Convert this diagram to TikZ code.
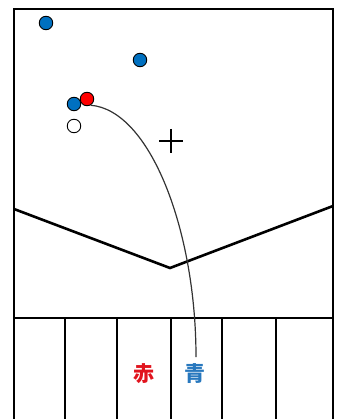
\documentclass[tikz,border=0pt]{standalone}
\usepackage{fontspec}
\newfontfamily\cjk{Noto Sans CJK JP}
\usepackage{tikz}
\usetikzlibrary{positioning, calc}
\definecolor{ballblue}{RGB}{0, 112, 192}
\definecolor{ballred}{RGB}{255, 0, 0}
\definecolor{textblue}{RGB}{40, 120, 190}
\definecolor{textred}{RGB}{225, 20, 30}

\begin{document}
\begin{tikzpicture}[x=1pt, y=-1pt,
      ball/.style={circle, draw=black, fill=#1, line width=0.9pt, minimum size=13.5pt, inner sep=0pt},
      wall/.style={line width=2.6pt, black},
      label/.style={font=\cjk\bfseries\fontsize{21}{22}\selectfont, text=#1, inner sep=0pt}
    ]
      \useasboundingbox (0,0) rectangle (340,419);

      % court outline and lines
      \draw [wall] (14,421) -- (14,9) -- (333,9) -- (333,421);
      \draw [wall] (14,209) -- (170,268) -- (333,206);
      \draw [wall] (14,318) -- (333,318);
      \foreach \x in {65, 117, 171, 222, 276}
        \draw [wall] (\x,318) -- (\x,421);

      % centre mark
      \node [inner sep=0pt] (C) at (171,141) {};
      \draw [line width=1.8pt] ($(C)+(-12,0)$) -- ($(C)+(12,0)$);
      \draw [line width=1.8pt] ($(C)+(0,-12)$) -- ($(C)+(0,12)$);

      % balls
      \node [ball=ballblue] (B1) at (46,23) {};
      \node [ball=ballblue] (B2) at (140,60) {};
      \node [ball=ballblue] (B3) at (74,104) {};
      \node [ball=white] (W) at (74,126) {};
      \node [ball=ballred] (R) at (87,99) {};

      % labels
      \node [label=textred] (Aka) at (144,374) {赤};
      \node [label=textblue] (Ao) at (195,374) {青};
      \coordinate (end) at (196,357);

      \draw [line width=1.2pt, black!80] (R.-60) .. controls (150,110) and (196,230) .. (end);
    \end{tikzpicture}
\end{document}
